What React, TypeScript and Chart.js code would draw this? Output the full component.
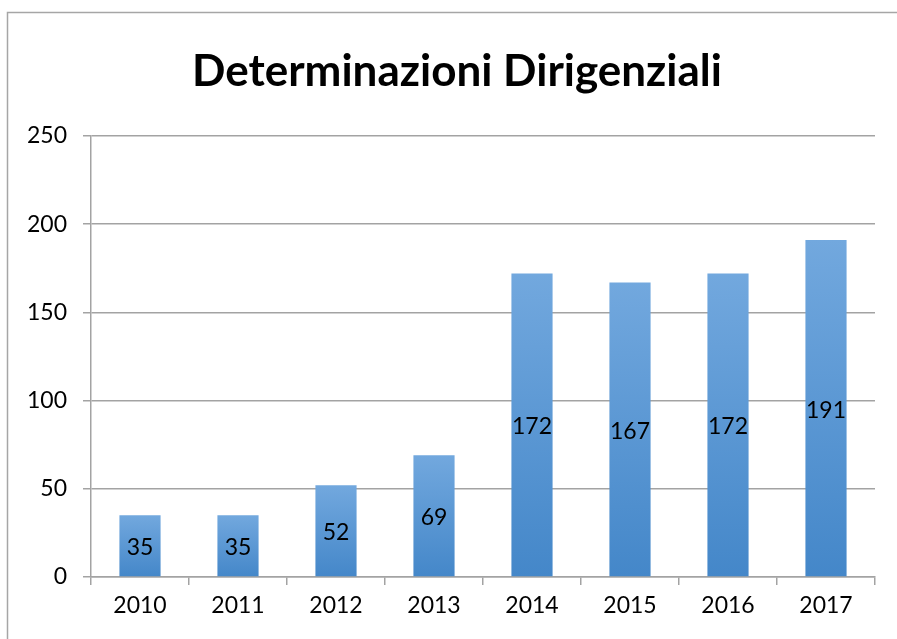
import React, { useEffect, useRef } from "react";
import { Chart, registerables } from "chart.js";

Chart.register(...registerables);

const TITLE = "Determinazioni Dirigenziali";
const categories = ["2010", "2011", "2012", "2013", "2014", "2015", "2016", "2017"];
const values = [35, 35, 52, 69, 172, 167, 172, 191];
const yTicks = [0, 50, 100, 150, 200, 250];

const FONT = "Lato, 'Liberation Sans', sans-serif";
const GRID = "#a3a3a3";

const frame = {
  id: "frame",
  beforeDraw(chart: any) {
    const { ctx } = chart;
    ctx.save();
    ctx.strokeStyle = "#a6a6a6";
    ctx.lineWidth = 1.5;
    ctx.beginPath();
    ctx.moveTo(7.5, 700);
    ctx.lineTo(7.5, 12.5);
    ctx.lineTo(1000, 12.5);
    ctx.stroke();
    ctx.restore();
  },
  afterDraw(chart: any) {
    const { ctx } = chart;
    ctx.save();
    ctx.fillStyle = "#000";
    ctx.font = `bold 44px ${FONT}`;
    ctx.textAlign = "center";
    ctx.textBaseline = "alphabetic";
    ctx.fillText(TITLE, 457, 86);
    ctx.restore();
  },
};

const labelsPlugin = {
  id: "centerLabels",
  afterDatasetsDraw(chart: any) {
    const { ctx } = chart;
    const meta = chart.getDatasetMeta(0);
    ctx.save();
    ctx.fillStyle = "#000";
    ctx.font = `23px ${FONT}`;
    ctx.textAlign = "center";
    ctx.textBaseline = "middle";
    meta.data.forEach((bar: any, i: number) => {
      const y = (bar.y + bar.base) / 2 + 2;
      ctx.fillText(String(values[i]), bar.x, y);
    });
    ctx.restore();
  },
};

function barGradient(context: any) {
  const chart = context.chart;
  const ys = chart.scales && chart.scales.y;
  if (!ys || context.dataIndex === undefined) return "#5b9bd5";
  const v = values[context.dataIndex];
  const top = ys.getPixelForValue(v);
  const bottom = ys.getPixelForValue(0);
  if (!isFinite(top) || !isFinite(bottom) || top === bottom) return "#5b9bd5";
  const g = chart.ctx.createLinearGradient(0, top, 0, bottom);
  g.addColorStop(0, "#72a8de");
  g.addColorStop(1, "#4487c9");
  return g;
}

export default function App() {
  const ref = useRef<HTMLCanvasElement | null>(null);
  useEffect(() => {
    document.body.style.margin = "0";
    const chart = new Chart(ref.current as HTMLCanvasElement, {
      type: "bar",
      data: {
        labels: categories,
        datasets: [
          {
            data: values,
            backgroundColor: barGradient as any,
            borderWidth: 0,
            categoryPercentage: 1,
            barPercentage: 0.42,
          },
        ],
      },
      options: {
        animation: false,
        responsive: false,
        devicePixelRatio: 1,
        layout: { padding: { left: 0, right: 22, top: 136, bottom: 0 } },
        plugins: {
          legend: { display: false },
          tooltip: { enabled: false },
          title: { display: false },
        },
        scales: {
          x: {
            grid: {
              display: true,
              drawOnChartArea: false,
              drawTicks: true,
              tickLength: 8,
              color: GRID,
              lineWidth: 1.5,
              offset: true,
            },
            border: { display: true, color: GRID, width: 1.5 },
            ticks: { color: "#000", font: { family: FONT, size: 23 }, padding: 7 },
            afterFit(scale: any) {
              scale.height = 62;
            },
          },
          y: {
            min: 0,
            max: 250,
            afterBuildTicks(scale: any) {
              scale.ticks = yTicks.map((v) => ({ value: v }));
            },
            grid: { color: GRID, lineWidth: 1.5, tickLength: 8, drawTicks: true },
            border: { display: true, color: GRID, width: 1.5 },
            ticks: { color: "#000", font: { family: FONT, size: 23 }, padding: 16 },
            afterFit(scale: any) {
              scale.width = 91;
            },
          },
        },
      },
      plugins: [frame, labelsPlugin],
    });
    return () => chart.destroy();
  }, []);
  return (
    <div style={{ position: "absolute", left: 0, top: 0, width: 897, height: 639, background: "#fff" }}>
      <canvas ref={ref} width={897} height={639} style={{ display: "block" }} />
    </div>
  );
}
